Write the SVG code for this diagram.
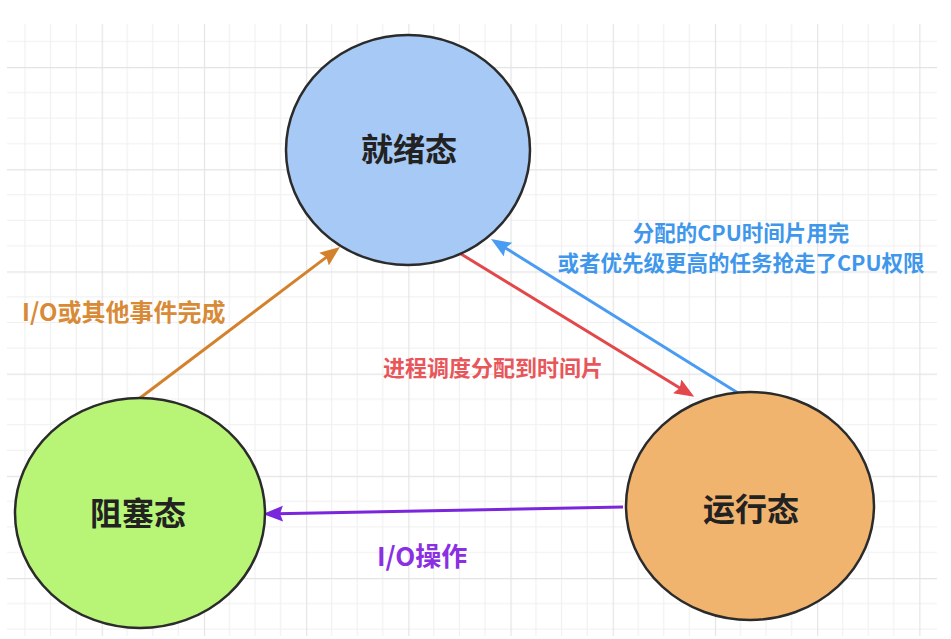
<svg xmlns="http://www.w3.org/2000/svg" width="951" height="639" viewBox="0 0 951 639">
  <style>
    .node { stroke: #2b2b2b; stroke-width: 2.5; }
    .ntext { font-family: "Noto Sans CJK SC", "Noto Sans", sans-serif; font-weight: bold; font-size: 32px; fill: #222; text-anchor: middle; }
    .lbl { font-family: "Noto Sans CJK SC", "Noto Sans", sans-serif; font-weight: bold; }
    .edge { fill: none; stroke-width: 3; }
  </style>
  <defs>
    <pattern id="grid" patternUnits="userSpaceOnUse" x="-0.5" y="-35.2" width="102.2" height="102.2">
      <path d="M25.55 0V102.2M51.1 0V102.2M76.65 0V102.2M0 25.55H102.2M0 51.1H102.2M0 76.65H102.2" stroke="#f0f0f0" stroke-width="1.2" fill="none"/>
      <path d="M0.5 0V102.2M0 0.5H102.2" stroke="#e4e4e4" stroke-width="1.4" fill="none"/>
    </pattern>
    <marker id="aOrange" markerUnits="userSpaceOnUse" markerWidth="22" markerHeight="18" refX="6" refY="8" orient="auto">
      <path d="M0,0 L20,8 L0,16 L3,8 z" fill="#d4812c"/>
    </marker>
    <marker id="aRed" markerUnits="userSpaceOnUse" markerWidth="22" markerHeight="18" refX="6" refY="8" orient="auto">
      <path d="M0,0 L20,8 L0,16 L3,8 z" fill="#e4474a"/>
    </marker>
    <marker id="aBlue" markerUnits="userSpaceOnUse" markerWidth="22" markerHeight="18" refX="6" refY="8" orient="auto">
      <path d="M0,0 L20,8 L0,16 L3,8 z" fill="#4a9cf2"/>
    </marker>
    <marker id="aPurple" markerUnits="userSpaceOnUse" markerWidth="22" markerHeight="18" refX="6" refY="8" orient="auto">
      <path d="M0,0 L20,8 L0,16 L3,8 z" fill="#7a26dc"/>
    </marker>
  </defs>
  <rect width="951" height="639" fill="#ffffff"/>
  <rect x="7" y="24" width="930" height="612" fill="url(#grid)"/>

  <g id="edges">
    <path class="edge" d="M140,398 L328.8,255.4" stroke="#d4812c" marker-end="url(#aOrange)"/>
    <path class="edge" d="M461,254 L682.3,389.5" stroke="#e4474a" marker-end="url(#aRed)"/>
    <path class="edge" d="M738,393 L502.9,246.4" stroke="#4a9cf2" marker-end="url(#aBlue)"/>
    <path class="edge" d="M623,507 L277,513.8" stroke="#7a26dc" marker-end="url(#aPurple)"/>
  </g>

  <g id="labels">
    <text class="lbl" x="22" y="321" font-size="24" fill="#d88a36">I/O或其他事件完成</text>
    <text class="lbl" x="383" y="376" font-size="22" fill="#e8565a">进程调度分配到时间片</text>
    <text class="lbl" x="741" y="241" font-size="21.5" fill="#3f97ec" text-anchor="middle">分配的CPU时间片用完</text>
    <text class="lbl" x="741" y="271" font-size="21.5" fill="#3f97ec" text-anchor="middle">或者优先级更高的任务抢走了CPU权限</text>
    <text class="lbl" x="377" y="566" font-size="26" fill="#8a2fe2">I/O操作</text>
  </g>

  <g id="ready">
    <ellipse class="node" cx="408" cy="150" rx="122" ry="115" fill="#a6c9f5"/>
    <text class="ntext" x="409" y="161">就绪态</text>
  </g>
  <g id="blocked">
    <ellipse class="node" cx="140" cy="513" rx="125" ry="115" fill="#b8f577"/>
    <text class="ntext" x="138" y="525">阻塞态</text>
  </g>
  <g id="running">
    <ellipse class="node" cx="750" cy="506" rx="124" ry="114" fill="#f1b46f"/>
    <text class="ntext" x="751" y="521">运行态</text>
  </g>
</svg>
